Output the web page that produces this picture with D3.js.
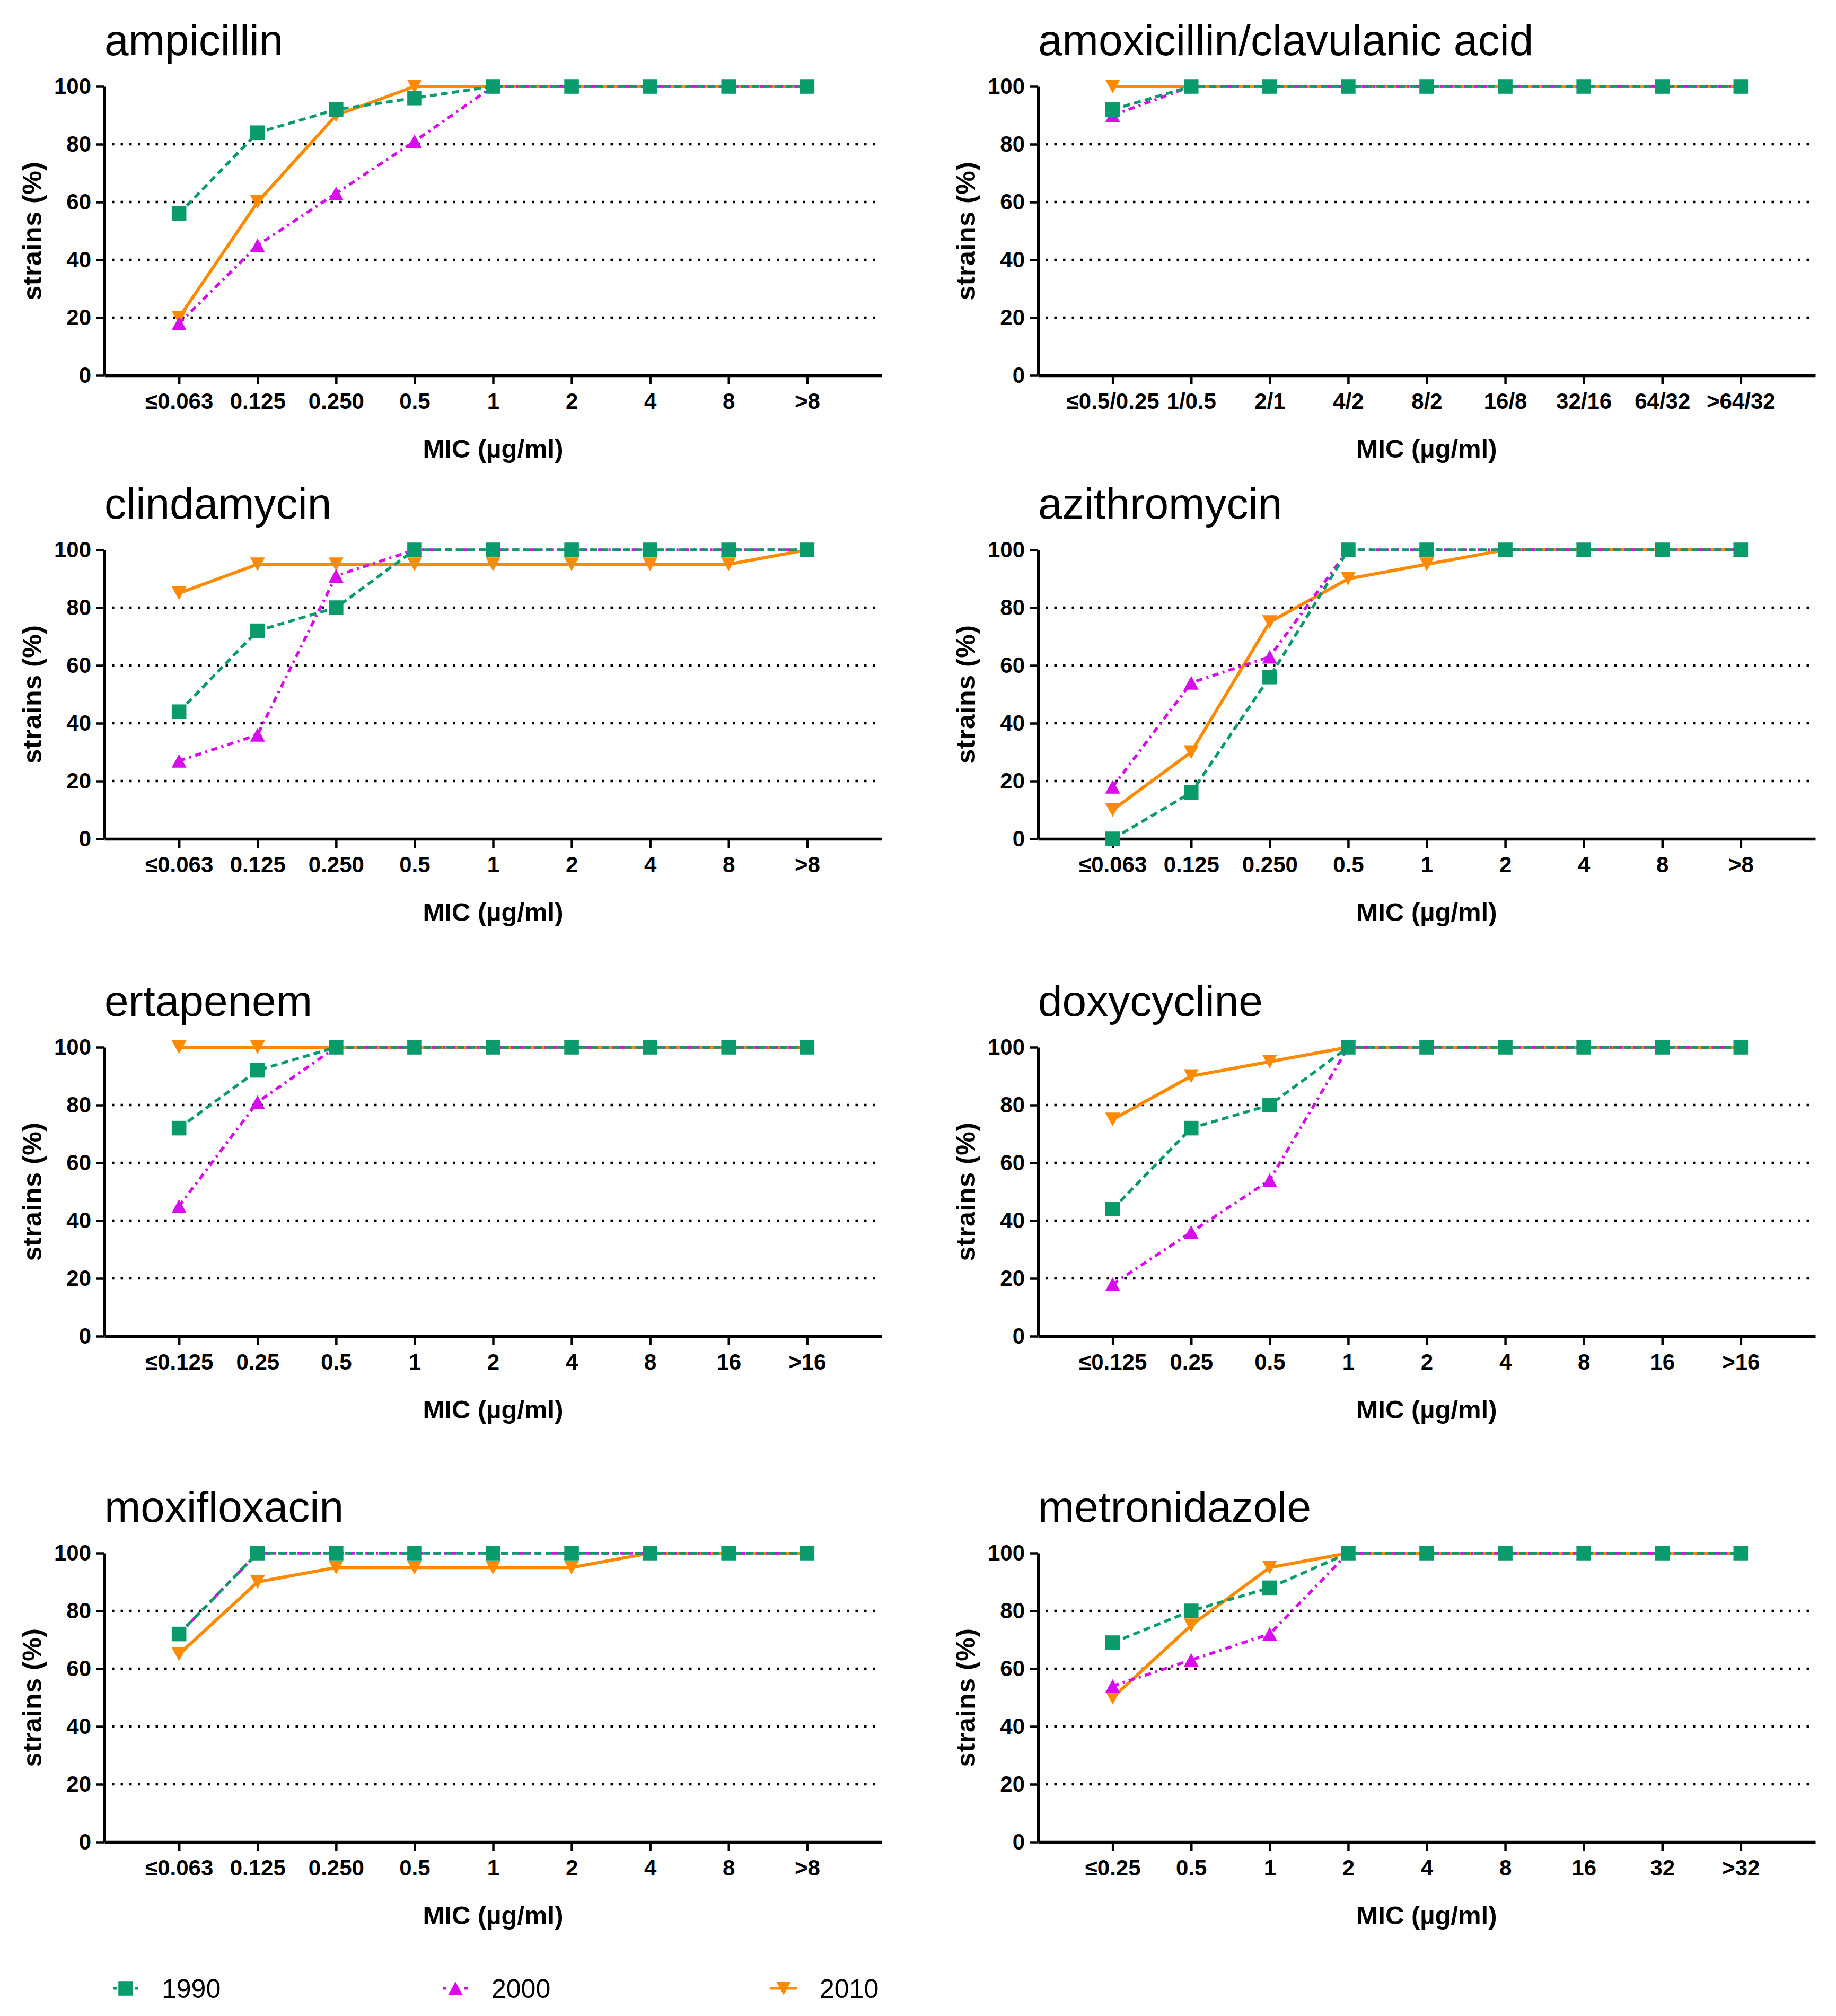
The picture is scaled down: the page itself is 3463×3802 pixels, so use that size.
<!DOCTYPE html>
<html>
<head>
<meta charset="utf-8">
<script src="https://cdn.jsdelivr.net/npm/d3@7"></script>
<style>
  body { margin: 0; background: #fff; }
  .title { font-family: "Liberation Sans", Arial, sans-serif; font-size: 82px; fill: #000; }
  .axis text { font-family: "Liberation Sans", Arial, sans-serif; font-size: 42px; font-weight: bold; fill: #000; }
  .axis path, .axis line { stroke: #000; }
  .y-label { font-family: "Liberation Sans", Arial, sans-serif; font-size: 50px; font-weight: bold; letter-spacing: 0.6px; }
  .x-label { font-family: "Liberation Sans", Arial, sans-serif; font-size: 49px; font-weight: bold; }
  .legend-text { font-family: "Liberation Sans", Arial, sans-serif; font-size: 50px; }
</style>
</head>
<body>
<div id="chart"></div>
<script>
// tick labels (MIC categories)
var micLow063 = ["≤0.063", "0.125", "0.250", "0.5", "1", "2", "4", "8", ">8"];
var micAmc = ["≤0.5/0.25", "1/0.5", "2/1", "4/2", "8/2", "16/8", "32/16", "64/32", ">64/32"];
var micLow125 = ["≤0.125", "0.25", "0.5", "1", "2", "4", "8", "16", ">16"];
var micLow25 = ["≤0.25", "0.5", "1", "2", "4", "8", "16", "32", ">32"];

var years = ["1990", "2000", "2010"];

// cumulative % of strains
var amp1990 = [56, 84, 92, 96, 100, 100, 100, 100, 100];
var amp2000 = [18, 45, 63, 81, 100, 100, 100, 100, 100];
var amp2010 = [20, 60, 90, 100, 100, 100, 100, 100, 100];

var amc1990 = [92, 100, 100, 100, 100, 100, 100, 100, 100];
var amc2000 = [90, 100, 100, 100, 100, 100, 100, 100, 100];
var amc2010 = [100, 100, 100, 100, 100, 100, 100, 100, 100];

var cli1990 = [44, 72, 80, 100, 100, 100, 100, 100, 100];
var cli2000 = [27, 36, 91, 100, 100, 100, 100, 100, 100];
var cli2010 = [85, 95, 95, 95, 95, 95, 95, 95, 100];

var azi1990 = [0, 16, 56, 100, 100, 100, 100, 100, 100];
var azi2000 = [18, 54, 63, 100, 100, 100, 100, 100, 100];
var azi2010 = [10, 30, 75, 90, 95, 100, 100, 100, 100];

var ert1990 = [72, 92, 100, 100, 100, 100, 100, 100, 100];
var ert2000 = [45, 81, 100, 100, 100, 100, 100, 100, 100];
var ert2010 = [100, 100, 100, 100, 100, 100, 100, 100, 100];

var dox1990 = [44, 72, 80, 100, 100, 100, 100, 100, 100];
var dox2000 = [18, 36, 54, 100, 100, 100, 100, 100, 100];
var dox2010 = [75, 90, 95, 100, 100, 100, 100, 100, 100];

var mxf1990 = [72, 100, 100, 100, 100, 100, 100, 100, 100];
var mxf2000 = [72, 100, 100, 100, 100, 100, 100, 100, 100];
var mxf2010 = [65, 90, 95, 95, 95, 95, 100, 100, 100];

var mtz1990 = [69, 80, 88, 100, 100, 100, 100, 100, 100];
var mtz2000 = [54, 63, 72, 100, 100, 100, 100, 100, 100];
var mtz2010 = [50, 75, 95, 100, 100, 100, 100, 100, 100];

var panels = [
    { name: "ampicillin", labels: micLow063, series: [amp1990, amp2000, amp2010] },
    { name: "amoxicillin/clavulanic acid", labels: micAmc, series: [amc1990, amc2000, amc2010] },
    { name: "clindamycin", labels: micLow063, series: [cli1990, cli2000, cli2010] },
    { name: "azithromycin", labels: micLow063, series: [azi1990, azi2000, azi2010] },
    { name: "ertapenem", labels: micLow125, series: [ert1990, ert2000, ert2010] },
    { name: "doxycycline", labels: micLow125, series: [dox1990, dox2000, dox2010] },
    { name: "moxifloxacin", labels: micLow063, series: [mxf1990, mxf2000, mxf2010] },
    { name: "metronidazole", labels: micLow25, series: [mtz1990, mtz2000, mtz2010] }
];

// triangles centred on their bounding box, like the original plot
function triangle(up) {
    return {
        draw: function(ctx, size) {
            var w = Math.sqrt(size) * 1.04, h = Math.sqrt(size) * 0.96;
            var s = up ? 1 : -1;
            ctx.moveTo(0, -s * h / 2);
            ctx.lineTo(w / 2, s * h / 2);
            ctx.lineTo(-w / 2, s * h / 2);
            ctx.closePath();
        }
    };
}

var styles = {
    "1990": { color: "#0A9B6C", dash: "13,8", width: 5.5, symbol: d3.symbolSquare, size: 760 },
    "2000": { color: "#D90CEE", dash: "12,8,4,8", width: 5.5, symbol: triangle(true), size: 729 },
    "2010": { color: "#FF8A00", dash: null, width: 6, symbol: triangle(false), size: 729 }
};

var width = 3463, height = 3802;
var colX = [197, 1958];
var rowTop = [163, 1037, 1975, 2929];
var plotW = 1466, plotH = 545;

var svg = d3.select("#chart").append("svg")
    .attr("width", width)
    .attr("height", height);

panels.forEach(function(p, i) {
    var left = colX[i % 2], top = rowTop[Math.floor(i / 2)];

    var g = svg.append("g")
        .attr("transform", "translate(" + left + "," + top + ")");

    var x = d3.scalePoint()
        .domain(p.labels)
        .range([0, plotW])
        .padding(0.95);

    var y = d3.scaleLinear()
        .domain([0, 100])
        .range([plotH, 0]);

    // dotted grid lines
    g.selectAll(".grid")
        .data([20, 40, 60, 80])
        .enter().append("line")
        .attr("class", "grid")
        .attr("x1", 14)
        .attr("x2", plotW)
        .attr("y1", function(d) { return y(d); })
        .attr("y2", function(d) { return y(d); })
        .attr("stroke", "#000")
        .attr("stroke-width", 4.5)
        .attr("stroke-dasharray", "4.5,12");

    var yAxis = g.append("g")
        .attr("class", "axis")
        .call(d3.axisLeft(y).tickValues([0, 20, 40, 60, 80, 100]).tickSize(15).tickSizeOuter(0).tickPadding(10));
    yAxis.select(".domain").attr("stroke-width", 5);
    yAxis.selectAll(".tick line").attr("stroke-width", 4.5);

    var xAxis = g.append("g")
        .attr("class", "axis")
        .attr("transform", "translate(0," + plotH + ")")
        .call(d3.axisBottom(x).tickSize(17).tickSizeOuter(0).tickPadding(16));
    xAxis.select(".domain").attr("stroke-width", 5.5);
    xAxis.selectAll(".tick line").attr("stroke-width", 4.5);

    g.append("text")
        .attr("class", "title")
        .attr("x", 0)
        .attr("y", -59)
        .text(p.name);

    g.append("text")
        .attr("class", "y-label")
        .attr("text-anchor", "middle")
        .attr("transform", "translate(-137," + (plotH / 2) + ")rotate(-90)")
        .attr("dy", "0.35em")
        .text("strains (%)");

    g.append("text")
        .attr("class", "x-label")
        .attr("text-anchor", "middle")
        .attr("x", plotW / 2)
        .attr("y", plotH + 155)
        .text("MIC (µg/ml)");

    var line = d3.line()
        .x(function(d) { return x(d.label); })
        .y(function(d) { return y(d.value); });

    // 2010 at the bottom, 1990 on top
    [2, 1, 0].forEach(function(k) {
        var st = styles[years[k]];
        var pts = p.series[k].map(function(v, j) { return { label: p.labels[j], value: v }; });

        g.append("path")
            .datum(pts)
            .attr("fill", "none")
            .attr("stroke", st.color)
            .attr("stroke-width", st.width)
            .attr("stroke-dasharray", st.dash)
            .attr("d", line);

        g.selectAll(".pt-" + k)
            .data(pts)
            .enter().append("path")
            .attr("class", "pt-" + k)
            .attr("transform", function(d) { return "translate(" + x(d.label) + "," + y(d.value) + ")"; })
            .attr("d", d3.symbol().type(st.symbol).size(st.size))
            .attr("fill", st.color);
    });
});

// legend
var legendX = [237, 859, 1478];
var legendY = 3750;
var legend = svg.selectAll(".legend-item")
    .data(years)
    .enter().append("g")
    .attr("class", "legend-item")
    .attr("transform", function(d, i) { return "translate(" + legendX[i] + "," + legendY + ")"; });

legend.append("line")
    .attr("x1", -26).attr("x2", 26)
    .attr("stroke", function(d) { return styles[d].color; })
    .attr("stroke-width", 5)
    .attr("stroke-dasharray", function(d) { return d === "2010" ? null : "6,14"; })
    .attr("stroke-dashoffset", -3);

legend.append("path")
    .attr("d", function(d) { return d3.symbol().type(styles[d].symbol).size(styles[d].size)(); })
    .attr("fill", function(d) { return styles[d].color; });

legend.append("text")
    .attr("class", "legend-text")
    .attr("x", 68)
    .attr("dy", "0.36em")
    .text(function(d) { return d; });
</script>
</body>
</html>
